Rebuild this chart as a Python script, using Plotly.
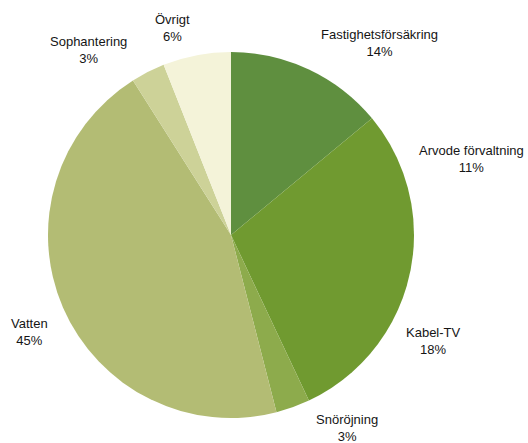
import plotly.graph_objects as go

# Cost breakdown, clockwise from 12 o'clock
categories = ["Fastighetsförsäkring", "Arvode förvaltning", "Kabel-TV",
              "Snöröjning", "Vatten", "Sophantering", "Övrigt"]
shares = [14, 11, 18, 3, 45, 3, 6]

colors = ["#5f8f3f", "#709a30", "#709a30", "#8dab4c",
          "#b3bc74", "#cdd298", "#f4f3d9"]

# label anchor points (pixels from top-left of the 528x443 canvas)
label_px = [(379, 43), (471, 159), (433, 341), (347, 428),
            (29, 332), (88, 50), (172, 28)]

W, H = 528, 443

fig = go.Figure(go.Pie(
    labels=categories,
    values=shares,
    sort=False,
    direction="clockwise",
    rotation=0,
    marker=dict(colors=colors, line=dict(width=0)),
    textinfo="none",
    hoverinfo="label+percent",
    showlegend=False,
    domain=dict(x=[48 / W, 414 / W], y=[1 - 418 / H, 1 - 52 / H]),
))

for name, val, (px, py) in zip(categories, shares, label_px):
    fig.add_annotation(
        x=px / W, y=1 - py / H, xref="paper", yref="paper",
        text=f"{name}<br>{val}%", showarrow=False,
        xanchor="center", yanchor="middle", align="center",
        font=dict(family="Liberation Sans, Arial, sans-serif", size=13, color="#151515"),
    )

fig.update_layout(
    width=W, height=H,
    margin=dict(l=0, r=0, t=0, b=0),
    paper_bgcolor="white",
    plot_bgcolor="white",
)

fig.write_html("out.html")
